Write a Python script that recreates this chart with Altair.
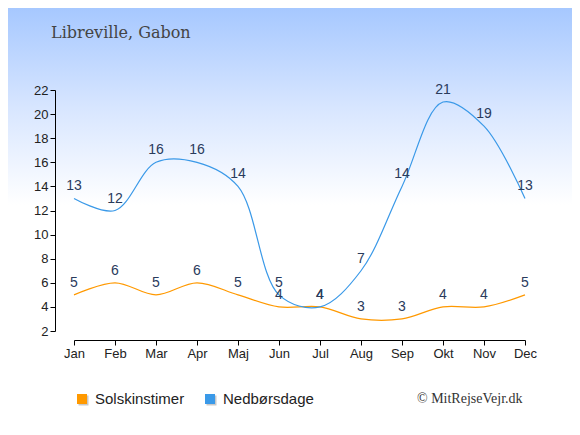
import altair as alt
import pandas as pd

months = ["Jan", "Feb", "Mar", "Apr", "Maj", "Jun", "Jul", "Aug", "Sep", "Okt", "Nov", "Dec"]
sol = [5, 6, 5, 6, 5, 4, 4, 3, 3, 4, 4, 5]
ned = [13, 12, 16, 16, 14, 5, 4, 7, 14, 21, 19, 13]
series = ["Solskinstimer", "Nedbørsdage"]
colors = ["#ff9900", "#3a99e8"]
y_ticks = list(range(2, 23, 2))

rows = []
for name, vals in zip(series, [sol, ned]):
    for m, v in zip(months, vals):
        rows.append({"month": m, "value": v, "series": name})
df = pd.DataFrame(rows)

W, H = 451, 241
PL, PT = 66, 82
SW, SH = 564, 419

x_enc = alt.X("month:O", sort=months,
              scale=alt.Scale(type="point", padding=0),
              axis=alt.Axis(title=None, labelAngle=0, offset=9, tickSize=5,
                            labelPadding=2, labelFontSize=13, labelColor="#222",
                            domainColor="#000", tickColor="#000", zindex=2,
                            labelFont="Liberation Sans"))
y_enc = alt.Y("value:Q", scale=alt.Scale(domain=[2, 22], nice=False, zero=False),
              axis=alt.Axis(title=None, values=y_ticks, offset=19, tickSize=5,
                            labelPadding=2, labelFontSize=13, labelColor="#222",
                            domainColor="#000", tickColor="#000", grid=False, zindex=2,
                            labelFont="Liberation Sans"))

bg = alt.Chart(pd.DataFrame({"a": [0]})).mark_rect(
    fill=alt.Gradient(gradient="linear",
                      stops=[alt.GradientStop(color="#a6c8ff", offset=0),
                             alt.GradientStop(color="#d8e6ff", offset=0.24),
                             alt.GradientStop(color="#ffffff", offset=0.47),
                             alt.GradientStop(color="#ffffff", offset=1)],
                      x1=0, x2=0, y1=0, y2=1)
).encode(x=alt.value(-PL), x2=alt.value(SW - PL), y=alt.value(-PT), y2=alt.value(SH - PT))

lines = alt.Chart(df).mark_line(interpolate="catmull-rom", strokeWidth=1.2).encode(
    x=x_enc, y=y_enc,
    stroke=alt.Stroke("series:N", scale=alt.Scale(domain=series, range=colors), legend=None),
    detail="series:N",
)

labels = alt.Chart(df).mark_text(dy=-8, baseline="alphabetic", fontSize=14,
                                 font="Liberation Sans", color="#2a3b5c").encode(
    x=x_enc, y=y_enc, text="value:Q")

# legend (drawn manually)
one = pd.DataFrame({"a": [0]})
legend_layers = []
for name, col, lx in zip(series, colors, [8, 136]):
    legend_layers.append(alt.Chart(one).mark_square(size=100, color="#c8c8c8", opacity=1)
                         .encode(x=alt.value(lx + 1.5), y=alt.value(310.5)))
    legend_layers.append(alt.Chart(one).mark_square(size=100, color=col, opacity=1)
                         .encode(x=alt.value(lx), y=alt.value(309)))
    legend_layers.append(alt.Chart(one).mark_text(align="left", baseline="alphabetic",
                                                  fontSize=15, font="Liberation Sans",
                                                  color="#222", text=name)
                         .encode(x=alt.value(lx + 13), y=alt.value(314)))

title = alt.Chart(pd.DataFrame({"t": ["Libreville, Gabon"]})).mark_text(
    align="left", baseline="alphabetic", fontSize=16, font="DejaVu Serif", color="#444"
).encode(x=alt.value(-23), y=alt.value(-52), text="t:N")

copy = alt.Chart(pd.DataFrame({"t": ["© MitRejseVejr.dk"]})).mark_text(
    align="left", baseline="alphabetic", fontSize=14, font="Liberation Serif", color="#333"
).encode(x=alt.value(343), y=alt.value(313), text="t:N")

chart = alt.layer(bg, lines, labels, *legend_layers, title, copy).properties(
    width=W, height=H,
    autosize=alt.AutoSizeParams(type="none"),
    padding={"left": PL, "top": PT, "right": SW - PL - W, "bottom": SH - PT - H},
).configure_view(stroke=None)

chart.save("out.html", embed_options={"renderer": "svg", "actions": False})
